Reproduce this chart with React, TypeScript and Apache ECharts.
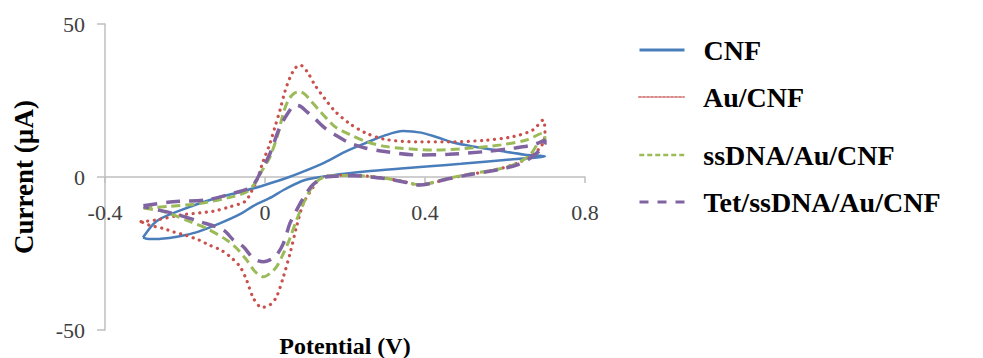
import React, { useEffect, useRef } from "react";
import * as echarts from "echarts";

// Potential (V) vs Current (µA), each loop in scan order
const cnfData: [number, number][] = [
  [-0.305, -19.8], [-0.28, -15.5], [-0.26, -13.5], [-0.21, -10.8], [-0.13, -7.2],
  [-0.06, -4.8], [-0.01, -3], [0.05, -0.5], [0.1, 2], [0.15, 4.8], [0.2, 8.2],
  [0.25, 11], [0.3, 13.6], [0.345, 15], [0.39, 14.5], [0.43, 13], [0.47, 11.3],
  [0.52, 10], [0.59, 8.5], [0.65, 7.3], [0.7, 6.8],
  [0.68, 6.4], [0.62, 5.8], [0.55, 5], [0.49, 4.3], [0.42, 3.6], [0.34, 2.8],
  [0.25, 1.8], [0.17, 0.6], [0.1, -1], [0.05, -4], [0.01, -7], [-0.03, -9.5],
  [-0.06, -12], [-0.11, -15], [-0.17, -18], [-0.22, -19.5], [-0.26, -20.2],
  [-0.29, -20.3], [-0.305, -19.8],
];

const auData: [number, number][] = [
  [-0.31, -14.6], [-0.27, -14], [-0.21, -12.4], [-0.13, -11.2], [-0.09, -9.8],
  [-0.05, -8], [-0.035, -5], [-0.02, -1], [-0.005, 5], [0.0125, 11], [0.025, 16.4],
  [0.0375, 21.9], [0.05, 28], [0.0625, 32.5], [0.075, 35.5], [0.0875, 36.6],
  [0.105, 34.5], [0.125, 30], [0.15, 25.5], [0.175, 21.5], [0.21, 17.6], [0.25, 14.5],
  [0.3, 12.3], [0.38, 11.5], [0.46, 11.5], [0.55, 12], [0.62, 13.2], [0.67, 15.4],
  [0.695, 18.6],
  [0.7, 14], [0.69, 9.9], [0.66, 6.6], [0.63, 4.5], [0.59, 2.8], [0.55, 1.7],
  [0.5, 0.6], [0.46, -0.6], [0.41, -2.1], [0.385, -2.6], [0.35, -1.6], [0.3, -0.4],
  [0.22, 0.6], [0.15, 0.2], [0.13, -1.5], [0.121, -3.2], [0.096, -8.6], [0.079, -16.2],
  [0.0625, -25], [0.046, -32.6], [0.029, -39.1], [0.0125, -41.8], [-0.008, -42.6],
  [-0.029, -39.6], [-0.046, -33.7], [-0.0625, -29.3], [-0.0875, -26], [-0.11, -23.9],
  [-0.14, -22.2], [-0.165, -20.6], [-0.2, -19], [-0.23, -17.9], [-0.255, -16.8],
  [-0.29, -15.7], [-0.31, -14.6],
];

const ssdnaData: [number, number][] = [
  [-0.304, -10.2], [-0.24, -9.6], [-0.16, -8.6], [-0.08, -6.4], [-0.045, -4.8],
  [-0.025, -2], [-0.01, 1.5], [0.0125, 6.6], [0.033, 14.3], [0.046, 21], [0.06, 25.5],
  [0.075, 27.5], [0.0875, 27.9], [0.1, 27], [0.1125, 25.2], [0.1375, 21.5], [0.155, 19],
  [0.175, 16.4], [0.21, 14], [0.254, 11.5], [0.3, 10], [0.34, 9.4], [0.42, 8.8],
  [0.5, 9.3], [0.59, 10.5], [0.654, 12.1], [0.695, 14.3],
  [0.7, 12.5], [0.683, 11], [0.6625, 7.2], [0.63, 4.5], [0.59, 2.8], [0.55, 1.8],
  [0.5, 0.7], [0.45, -0.7], [0.41, -2.1], [0.385, -2.5], [0.35, -1.6], [0.3, -0.4],
  [0.22, 0.5], [0.15, 0.1], [0.125, -2], [0.104, -6.4], [0.079, -14], [0.0625, -20],
  [0.046, -25], [0.029, -29.3], [0.0125, -31.5], [-0.004, -32.6], [-0.025, -30.9],
  [-0.046, -27.1], [-0.071, -23.3], [-0.096, -20.6], [-0.146, -16.8], [-0.1875, -14.6],
  [-0.23, -12.4], [-0.2625, -11], [-0.304, -10.2],
];

const tetData: [number, number][] = [
  [-0.304, -9.4], [-0.23, -8.1], [-0.146, -7.5], [-0.079, -5.3], [-0.045, -4],
  [-0.029, -2.6], [-0.0125, 1.2], [0.0125, 7.7], [0.0375, 16.4], [0.0625, 21.9],
  [0.075, 23.5], [0.09, 23], [0.105, 21.3], [0.125, 19], [0.15, 16], [0.175, 13.8],
  [0.21, 11.2], [0.25, 9.5], [0.3, 8.3], [0.38, 7.2], [0.46, 7.4], [0.55, 8.3],
  [0.62, 9.4], [0.67, 10.5], [0.7, 12.1],
  [0.7, 11], [0.6875, 8.8], [0.6625, 6.1], [0.629, 3.9], [0.59, 2.6], [0.55, 1.6],
  [0.5, 0.5], [0.45, -0.8], [0.41, -2.2], [0.385, -2.6], [0.35, -1.7], [0.3, -0.5],
  [0.22, 0.4], [0.15, 0], [0.12, -2.5], [0.1, -6], [0.079, -10.8], [0.0625, -15.1],
  [0.046, -21.7], [0.029, -25.5], [0.0125, -27.1], [-0.004, -27.7], [-0.029, -26.6],
  [-0.054, -22.8], [-0.079, -20.6], [-0.104, -17.3], [-0.1625, -14.6], [-0.23, -11.9],
  [-0.304, -9.7],
];

const seriesNames = ["CNF", "Au/CNF", "ssDNA/Au/CNF", "Tet/ssDNA/Au/CNF"];
const xTicks = { min: -0.4, max: 0.8, interval: 0.4 };
const yTicks = { min: -50, max: 50, interval: 50 };

const FONT = "'Liberation Serif', 'Times New Roman', serif";
const AXIS_COLOR = "#bfbfbf";

const GRID_TOP = 24;
const GRID_BOTTOM = 28;
const CHART_H = 358;

export default function App() {
  const ref = useRef<HTMLDivElement>(null);

  useEffect(() => {
    if (!ref.current) return;
    const chart = echarts.init(ref.current, null, { renderer: "svg" });

    const styles = [
      { color: "#4a7ebb", width: 2.5, type: "solid" as any, cap: "butt" },
      { color: "#c8504d", width: 3.2, type: [0.1, 6.5] as any, cap: "round" },
      { color: "#9bbb59", width: 3, type: [9, 5] as any, cap: "butt" },
      { color: "#8064a2", width: 3.5, type: [14, 9] as any, cap: "butt" },
    ];
    const legendStyles = [
      { color: "#4a7ebb", width: 3, type: "solid" as any },
      { color: "#d88a88", width: 2, type: [2, 2] as any },
      { color: "#9bbb59", width: 2.5, type: [5, 3] as any },
      { color: "#8064a2", width: 3, type: [9, 9] as any },
    ];
    const datas = [cnfData, auData, ssdnaData, tetData];
    const legendCenters = [50, 97, 155, 202];

    // put the x axis (line, ticks and labels) on the y = 0 line
    const plotH = CHART_H - GRID_TOP - GRID_BOTTOM;
    const zeroFrac = (0 - yTicks.min) / (yTicks.max - yTicks.min);
    const xAxisOffset = -plotH * zeroFrac;

    chart.setOption({
      animation: false,
      grid: {
        left: 105,
        right: 398,
        top: GRID_TOP,
        bottom: GRID_BOTTOM,
        containLabel: false,
        outerBoundsMode: "none",
      },
      xAxis: {
        type: "value",
        position: "bottom",
        offset: xAxisOffset,
        min: xTicks.min,
        max: xTicks.max,
        interval: xTicks.interval,
        name: "Potential (V)",
        nameLocation: "middle",
        nameGap: 157,
        nameTextStyle: { fontFamily: FONT, fontWeight: "bold", fontSize: 24, color: "#000" },
        axisLine: { onZero: false, lineStyle: { color: AXIS_COLOR, width: 1.5 } },
        axisTick: { show: true, length: 6, lineStyle: { color: AXIS_COLOR, width: 1.5 } },
        axisLabel: {
          margin: 24,
          fontFamily: FONT,
          fontSize: 22,
          color: "#404040",
          formatter: (v: number) => String(Math.round(v * 10) / 10),
        },
        splitLine: { show: false },
      },
      yAxis: {
        type: "value",
        min: yTicks.min,
        max: yTicks.max,
        interval: yTicks.interval,
        name: "Current (µA)",
        nameLocation: "middle",
        nameGap: 68,
        nameTextStyle: { fontFamily: FONT, fontWeight: "bold", fontSize: 27, color: "#000" },
        axisLine: { show: true, onZero: false, lineStyle: { color: AXIS_COLOR, width: 1.5 } },
        axisTick: { show: true, length: 8, lineStyle: { color: AXIS_COLOR, width: 1.5 } },
        axisLabel: { margin: 20, fontFamily: FONT, fontSize: 22, color: "#404040" },
        splitLine: { show: false },
      },
      legend: seriesNames.map((name, i) => ({
        data: [name],
        orient: "vertical",
        left: 638,
        top: legendCenters[i] - 14,
        padding: 0,
        itemWidth: 45,
        itemHeight: 28,
        selectedMode: false,
        itemStyle: { opacity: 0, borderWidth: 0 },
        textStyle: {
          fontFamily: FONT,
          fontWeight: "bold",
          fontSize: 28,
          color: "#000",
          padding: [0, 0, 0, 14],
        },
        lineStyle: {
          color: legendStyles[i].color,
          width: legendStyles[i].width,
          type: legendStyles[i].type,
          opacity: 1,
        },
      })),
      series: seriesNames.map((name, i) => ({
        name,
        type: "line",
        data: datas[i],
        symbol: "none",
        showSymbol: false,
        smooth: 0.3,
        color: styles[i].color,
        lineStyle: {
          color: styles[i].color,
          width: styles[i].width,
          type: styles[i].type,
          cap: styles[i].cap,
        },
        z: 2 + i,
      })),
    });

    return () => chart.dispose();
  }, []);

  return (
    <div
      ref={ref}
      style={{ position: "fixed", left: 0, top: 0, width: 983, height: CHART_H, background: "#fff" }}
    />
  );
}
